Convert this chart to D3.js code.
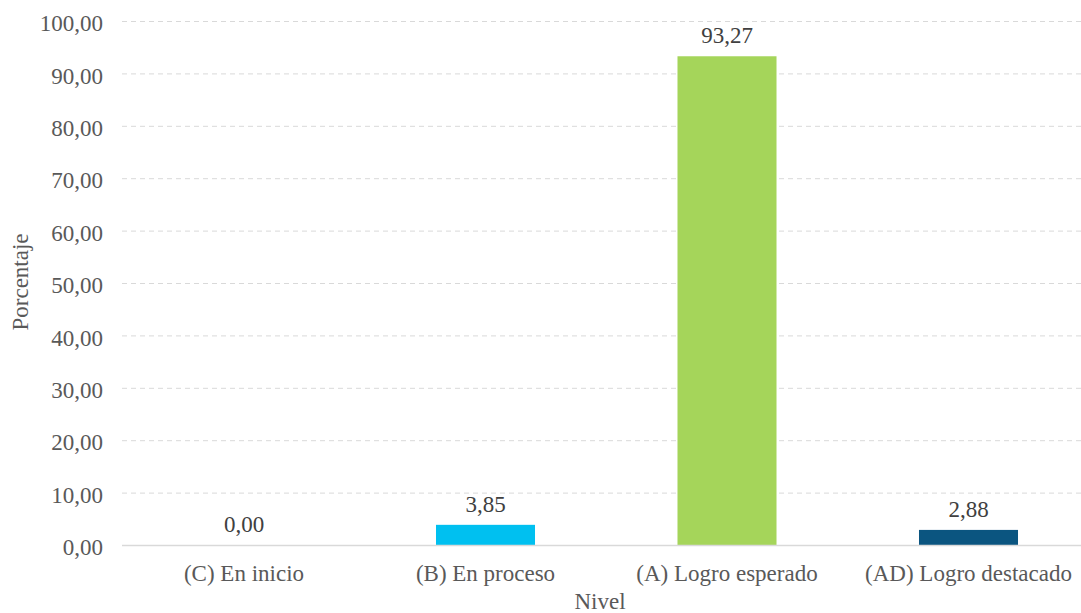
<!DOCTYPE html>
<html><head><meta charset="utf-8">
<script src="https://cdn.jsdelivr.net/npm/d3@7"></script>
<style>body{margin:0;background:#fff;} svg{display:block;font-family:"Liberation Serif","Times New Roman",serif;}</style>
</head><body>
<svg id="c" width="1081" height="613"></svg>
<script>
const categories = ["(C) En inicio", "(B) En proceso", "(A) Logro esperado", "(AD) Logro destacado"];
const values = [0.00, 3.85, 93.27, 2.88];
const colors = ["#00C0F0", "#00C0F0", "#A5D55A", "#0B5580"];
const yTicks = [0,10,20,30,40,50,60,70,80,90,100];
const fmt = v => v.toFixed(2).replace(".", ",");

(function(){
const FS = "23px", FF = "Liberation Serif";
const svg = d3.select("#c");
const mL = 123.25, mR = 1089.25, mT = 21, mB = 545;
const x = d3.scaleBand().domain(categories).range([mL, mR]).paddingInner(0.59).paddingOuter(0.295);
const y = d3.scaleLinear().domain([0, 100]).range([mB, mT]);

svg.append("g").selectAll("line").data(yTicks.filter(t => t > 0)).join("line")
  .attr("x1", 122).attr("x2", 1081)
  .attr("y1", d => y(d) + 0.5).attr("y2", d => y(d) + 0.5)
  .attr("stroke", "#d9d9d9").attr("stroke-dasharray", "5,4").attr("stroke-width", 1);

const yAxis = d3.axisLeft(y).tickValues(yTicks).tickFormat(fmt).tickSize(0).tickPadding(0);
const yg = svg.append("g").attr("transform", `translate(${103},0)`).call(yAxis);
yg.attr("font-family", FF).attr("font-size", FS);
yg.select(".domain").remove();
yg.selectAll("text").attr("fill", "#595959").attr("dy", "0.42em");

svg.append("g").selectAll("rect").data(values).join("rect")
  .attr("x", (d, i) => x(categories[i]))
  .attr("width", x.bandwidth())
  .attr("y", d => y(d))
  .attr("height", d => y(0) - y(d))
  .attr("fill", (d, i) => colors[i]);

svg.append("line").attr("x1", 122).attr("x2", 1081).attr("y1", mB + 0.5).attr("y2", mB + 0.5)
  .attr("stroke", "#d9d9d9").attr("stroke-width", 1.5);

const xAxis = d3.axisBottom(x).tickSize(0).tickPadding(20);
const xg = svg.append("g").attr("transform", `translate(0,${mB})`).call(xAxis);
xg.attr("font-family", FF).attr("font-size", FS);
xg.select(".domain").remove();
xg.selectAll("text").attr("fill", "#595959");

svg.append("g").attr("font-family", FF).attr("font-size", FS)
  .selectAll("text").data(values).join("text")
  .attr("x", (d, i) => x(categories[i]) + x.bandwidth() / 2)
  .attr("y", d => y(d) - 13)
  .attr("text-anchor", "middle")
  .attr("fill", "#404040")
  .text(fmt);

svg.append("text").attr("x", 600).attr("y", 609).attr("text-anchor", "middle")
  .attr("font-family", FF).attr("font-size", FS)
  .attr("fill", "#595959").text("Nivel");
svg.append("text").attr("transform", "translate(28,282) rotate(-90)").attr("text-anchor", "middle")
  .attr("font-family", FF).attr("font-size", FS)
  .attr("fill", "#595959").text("Porcentaje");
})();
</script>
</body></html>
